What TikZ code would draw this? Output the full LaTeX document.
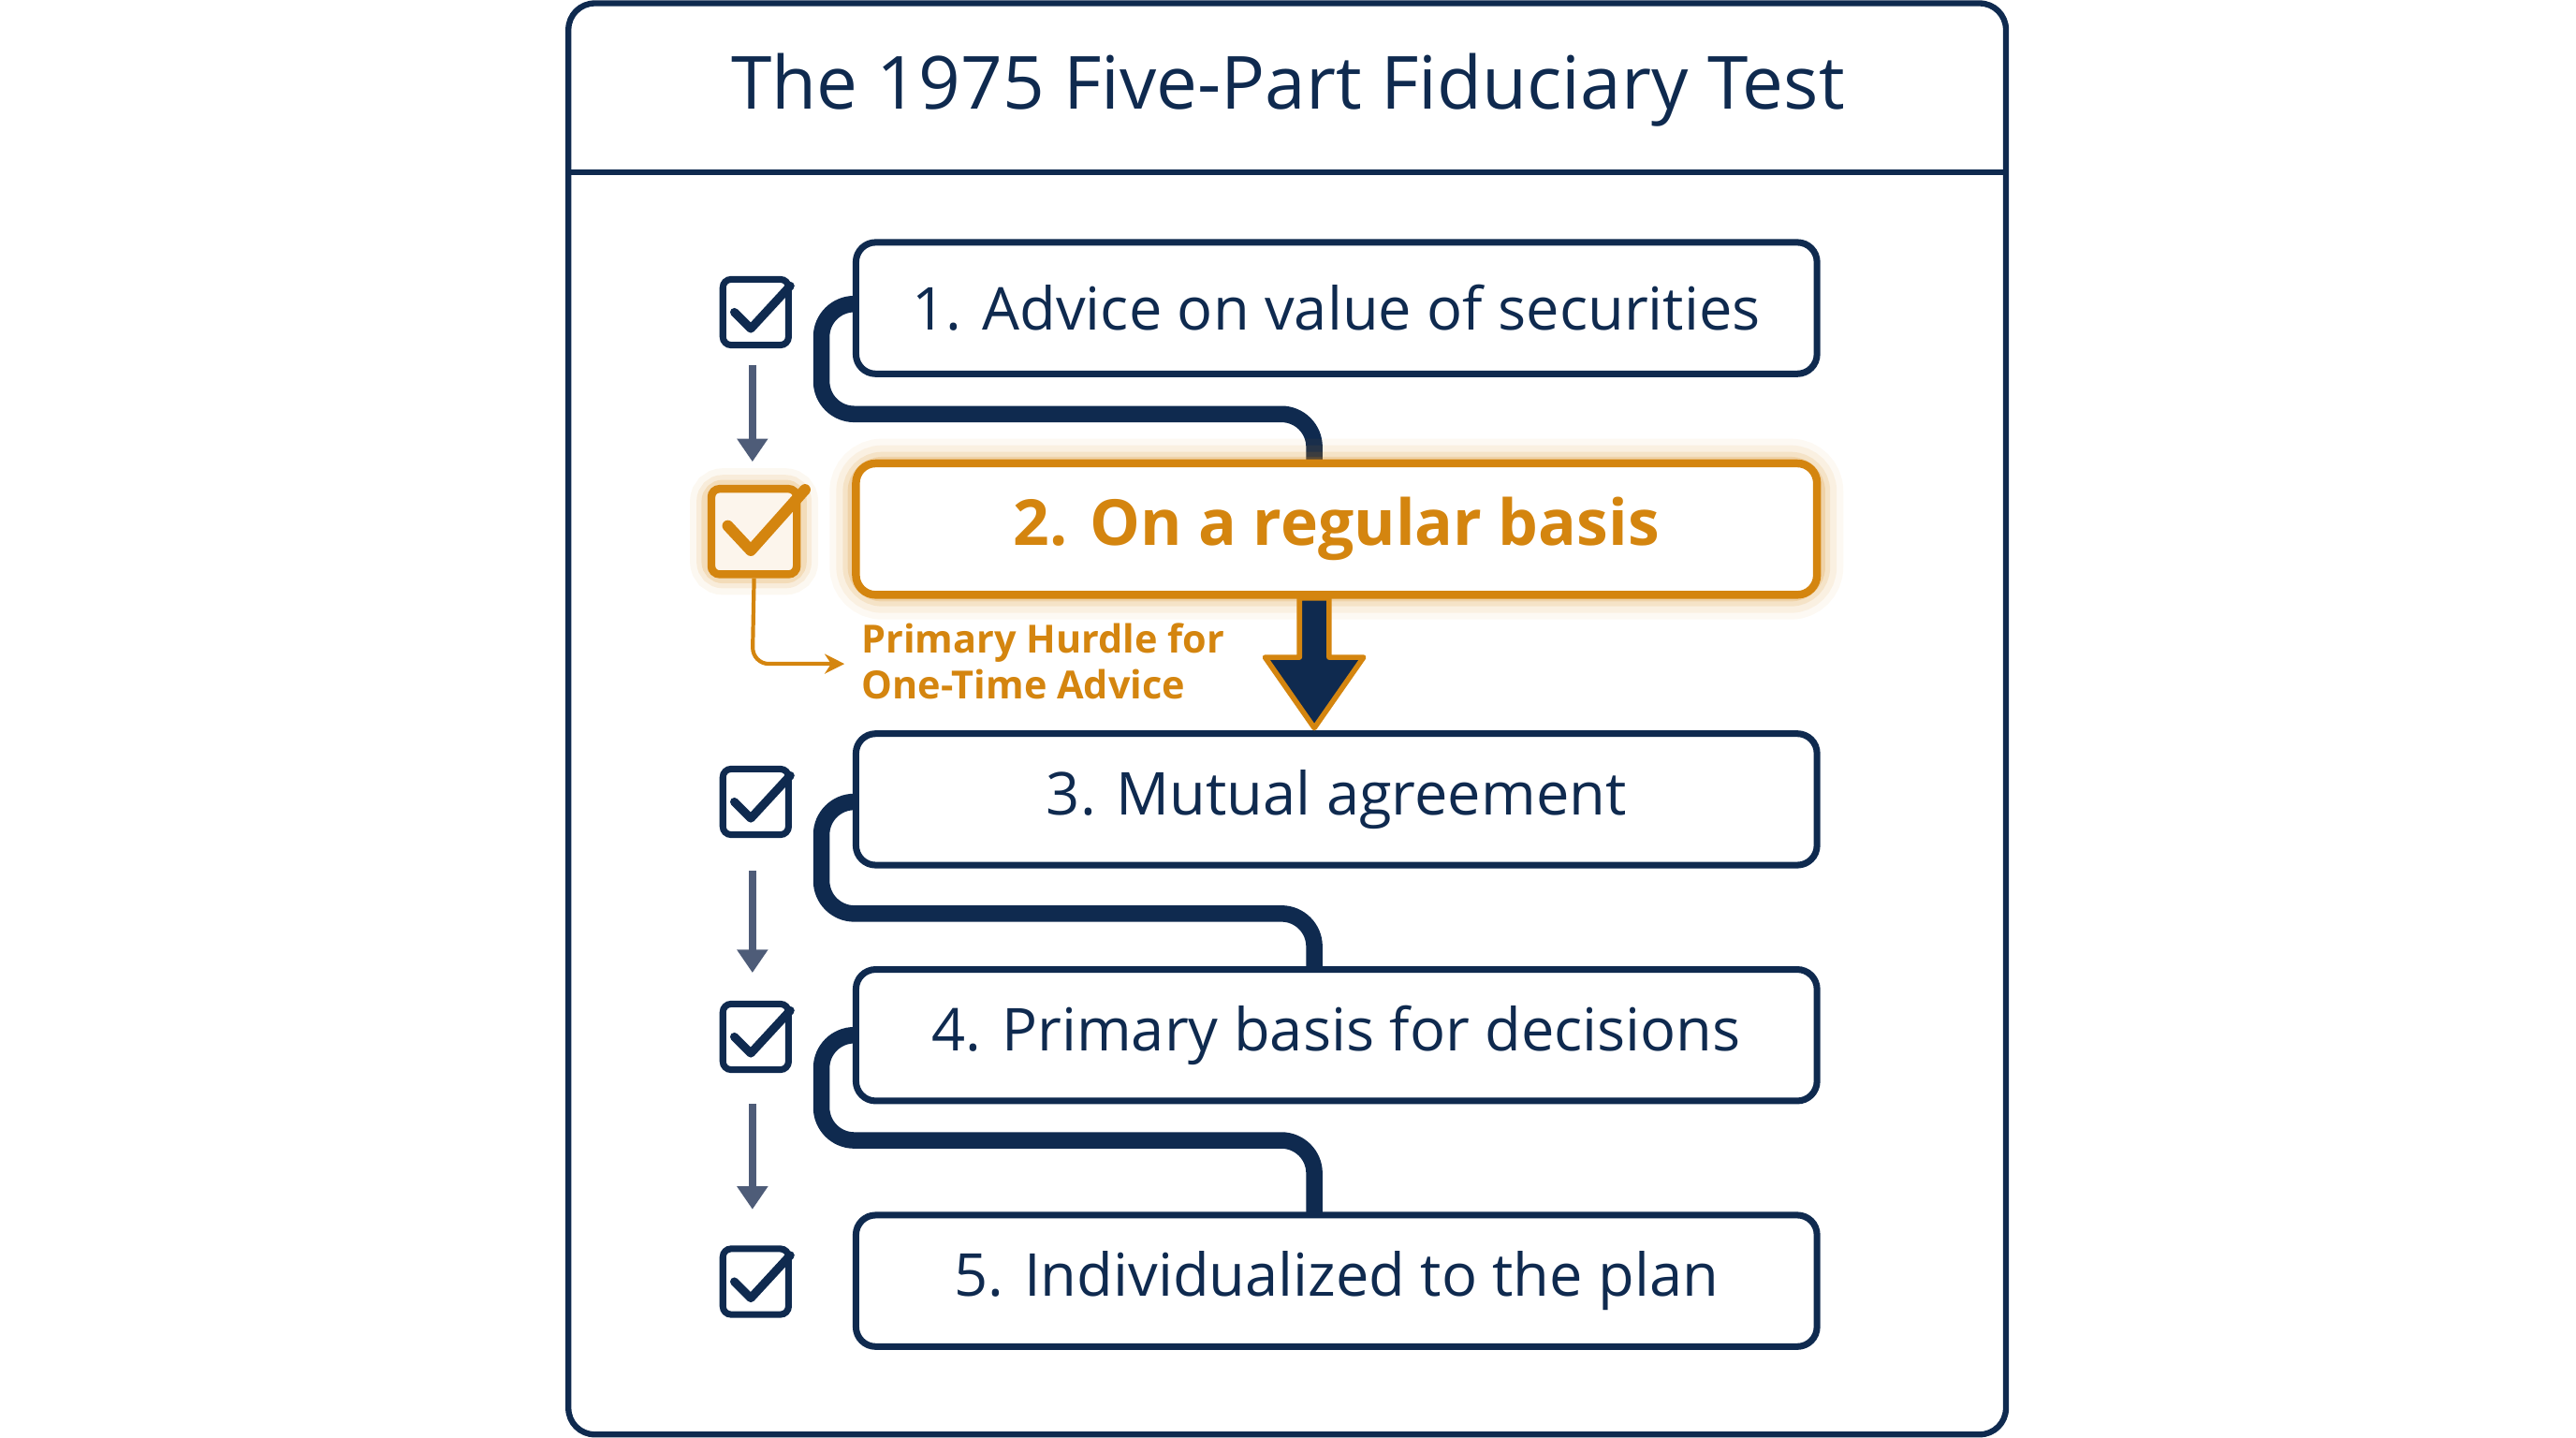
\documentclass[tikz,border=0pt]{standalone}
\usepackage{fontspec}
\setmainfont{Open Sans}
\usetikzlibrary{arrows.meta}
\definecolor{navy}{HTML}{0F2A4F}
\definecolor{org}{HTML}{D4850F}
\definecolor{slate}{HTML}{4E5C78}
\begin{document}
\begin{tikzpicture}[x=0.5pt,y=-0.5pt,
  stepbox/.style={draw=navy,line width=2pt,rounded corners=6pt,minimum width=292.5pt,minimum height=40pt,font=\fontsize{18}{22}\selectfont,text=navy,fill=white},
  conn/.style={draw=navy,line width=5pt,rounded corners=10pt},
  garrow/.style={draw=slate,line width=2.4pt,-{Triangle[length=7pt,width=9pt]}},
  cb/.style={draw=navy,line width=2pt,rounded corners=2.5pt,minimum size=20pt,inner sep=0pt}]
\useasboundingbox (0,0) rectangle (1568,875);
% frame
\draw[navy,line width=1.8pt,rounded corners=8pt] (346,2) rectangle (1221,873);
\draw[navy,line width=1.8pt] (346,105) -- (1221,105);
\node[text=navy,font=\fontsize{22.3}{26}\selectfont] (title) at (784,55) {The 1975 Five-Part Fiduciary Test};
% connectors (behind boxes)
\coordinate (c1a) at (525,185); \coordinate (c3a) at (525,488); \coordinate (c4a) at (525,630);
\draw[conn] (c1a) -- (500,185) -- (500,252) -- (800,252) -- (800,285);
\draw[conn] (c3a) -- (500,488) -- (500,556) -- (800,556) -- (800,592);
\draw[conn] (c4a) -- (500,630) -- (500,694) -- (800,694) -- (800,742);
% boxes
\node[stepbox] (b1) at (813.5,187.5) {1. Advice on value of securities};
\foreach \w/\o in {16/0.05,12/0.08,8/0.12,5/0.18}
  \draw[org,opacity=\o,line width=\w pt,rounded corners=8pt] (521,283) rectangle (1106,361);
\node[stepbox,draw=org,line width=2.4pt,text=org,font=\fontsize{19.3}{23}\selectfont\bfseries] (b2) at (813.5,322) {2. On a regular basis};
\node[stepbox] (b3) at (813.5,486.5) {3. Mutual agreement};
\node[stepbox] (b4) at (813.5,630) {4. Primary basis for decisions};
\node[stepbox] (b5) at (813.5,779.5) {5. Individualized to the plan};
% big arrow
\draw[fill=navy,draw=org,line width=1.6pt,line join=round]
  (791,364) -- (809,364) -- (809,400) -- (830,400) -- (800,443) -- (770,400) -- (791,400) -- cycle;
% checkboxes
\foreach \n/\y in {k1/190,k3/488,k4/631,k5/780}{
  \node[cb] (\n) at (460,\y) {};
  \draw[navy,line width=2.6pt,line cap=round,line join=round] (447,\y) -- (457,\y+10) -- (481,\y-16);
}
\foreach \w/\o in {12/0.06,8/0.1,5/0.16}
  \draw[org,opacity=\o,line width=\w pt,rounded corners=4pt] (432,297) rectangle (486,350);
\node[cb,draw=org,line width=2.4pt,minimum size=26pt,fill=org!8] (k2) at (459,323.5) {};
\draw[org,line width=3.4pt,line cap=round,line join=round] (443,320) -- (457,335) -- (490,298);
% grey arrows
\draw[garrow] (458,222) -- (458,281);
\draw[garrow] (458,530) -- (458,592);
\draw[garrow] (458,672) -- (458,736);
% hurdle
\node[anchor=north west,align=left,text=org,font=\fontsize{11.8}{14}\selectfont\bfseries,inner sep=0pt] (hurdle) at (524,379) {Primary Hurdle for\\One-Time Advice};
\draw[org,line width=1.2pt,rounded corners=5pt,-{Stealth[length=6pt,width=6pt]}] (k2.south) -- (458,404) -- (514,404);
\end{tikzpicture}
\end{document}
